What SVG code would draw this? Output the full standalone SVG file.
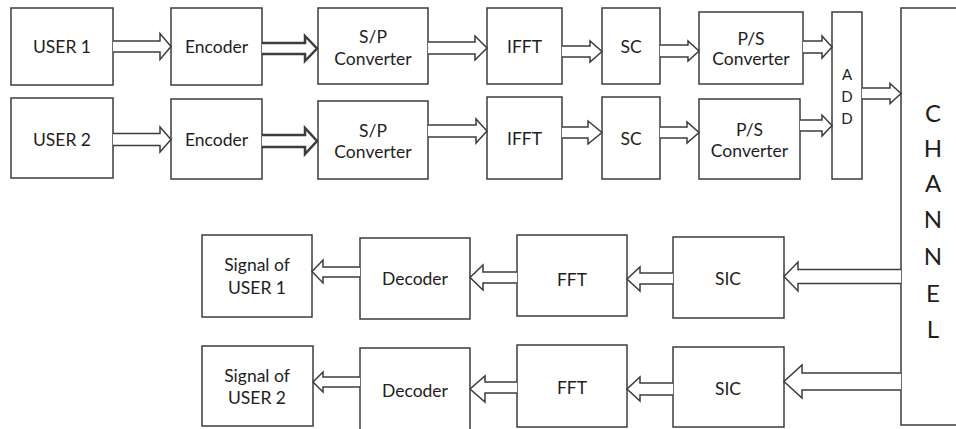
<svg xmlns="http://www.w3.org/2000/svg" width="956" height="429" viewBox="0 0 956 429">
<style>
.b{fill:#fff;stroke:#3c3c3c;stroke-width:1.5}
.a{fill:#fff;stroke:#3c3c3c;stroke-width:1.5;stroke-linejoin:miter}
.t{stroke-width:2.5}
text{font-family:Lato,"Open Sans","Liberation Sans",sans-serif;font-size:17.5px;fill:#1e1e1e;text-anchor:middle}
.big{font-size:24px}
.sm{font-size:15px}
</style>
<rect width="956" height="429" fill="#fff"/>
<g id="user1"><rect class="b" x="11" y="8" width="102" height="77"/><text x="62" y="53">USER 1</text></g>
<g id="user2"><rect class="b" x="11" y="98" width="102" height="80"/><text x="62" y="146">USER 2</text></g>
<g id="enc1"><rect class="b" x="171" y="8" width="91" height="77"/><text x="216.5" y="53">Encoder</text></g>
<g id="enc2"><rect class="b" x="171" y="99" width="91" height="80"/><text x="216.5" y="146">Encoder</text></g>
<g id="sp1"><rect class="b" x="318" y="8" width="110" height="76"/><text x="373" y="43">S/P</text><text x="373" y="65">Converter</text></g>
<g id="sp2"><rect class="b" x="318" y="101" width="110" height="78"/><text x="373" y="137">S/P</text><text x="373" y="158">Converter</text></g>
<g id="ifft1"><rect class="b" x="487" y="8" width="75" height="76"/><text x="524.5" y="53">IFFT</text></g>
<g id="ifft2"><rect class="b" x="487" y="97" width="75" height="82"/><text x="524.5" y="145">IFFT</text></g>
<g id="sc1"><rect class="b" x="602" y="8" width="58" height="76"/><text x="631" y="53">SC</text></g>
<g id="sc2"><rect class="b" x="602" y="97" width="58" height="82"/><text x="631" y="145">SC</text></g>
<g id="ps1"><rect class="b" x="699" y="12" width="104" height="72"/><text x="751" y="45">P/S</text><text x="751" y="65">Converter</text></g>
<g id="ps2"><rect class="b" x="699" y="99" width="101" height="80"/><text x="749.5" y="136">P/S</text><text x="749.5" y="157">Converter</text></g>
<g id="add"><rect class="b" x="832" y="12" width="30" height="167"/><text class="sm" x="847" y="80">A</text><text class="sm" x="847" y="102">D</text><text class="sm" x="847" y="124">D</text></g>
<g id="channel"><rect class="b" x="901" y="8" width="70" height="417"/>
<text class="big" x="933" y="122">C</text><text class="big" x="933" y="157">H</text><text class="big" x="933" y="192">A</text><text class="big" x="933" y="228">N</text><text class="big" x="933" y="265">N</text><text class="big" x="933" y="302">E</text><text class="big" x="933" y="338">L</text></g>
<g id="sig1"><rect class="b" x="202" y="235" width="110" height="82"/><text x="257" y="271">Signal of</text><text x="257" y="294">USER 1</text></g>
<g id="dec1"><rect class="b" x="360" y="238" width="110" height="81"/><text x="415" y="285">Decoder</text></g>
<g id="fft1"><rect class="b" x="517" y="235" width="110" height="81"/><text x="572" y="286">FFT</text></g>
<g id="sic1"><rect class="b" x="673" y="237" width="111" height="81"/><text x="728" y="285">SIC</text></g>
<g id="sig2"><rect class="b" x="202" y="346" width="111" height="80"/><text x="257" y="382">Signal of</text><text x="257" y="404">USER 2</text></g>
<g id="dec2"><rect class="b" x="360" y="348" width="110" height="86"/><text x="415" y="397">Decoder</text></g>
<g id="fft2"><rect class="b" x="517" y="345" width="110" height="82"/><text x="572" y="394">FFT</text></g>
<g id="sic2"><rect class="b" x="673" y="347" width="111" height="80"/><text x="728" y="395">SIC</text></g>
<g id="connectors">
<path class="a" d="M113 41H160V33.5L171 46.5L160 59.5V52H113"/>
<path class="a" d="M113 133.5H160V127L171 139.5L160 152V145.5H113"/>
<path class="a t" d="M262 43H305V36L317 48.5L305 61V54H262"/>
<path class="a t" d="M262 135H305V128L317 141L305 154V147H262"/>
<path class="a" d="M428 42H475V36L487 48L475 60V54H428"/>
<path class="a" d="M428 125H476V119L487 131L476 143V137H428"/>
<path class="a" d="M562 46H590V41L602 51.5L590 62V57H562"/>
<path class="a" d="M562 127H588V121L602 132.5L588 144V138H562"/>
<path class="a" d="M660 45H688V41L699 51L688 61V57H660"/>
<path class="a" d="M660 127H687V122L699 132.5L687 143V138H660"/>
<path class="a" d="M803 41H822V36L832 47L822 58V53H803"/>
<path class="a" d="M800 120H822V115L832 125.5L822 136V131H800"/>
<path class="a" d="M862 88H890V83.5L901 93.5L890 103.5V99H862"/>
<path class="a" d="M901 269.5H798V262L784 276.5L798 291V283.5H901"/>
<path class="a" d="M901 373H802V365L784 381.5L802 398V390H901"/>
<path class="a" d="M673 273H640V267L627 279L640 291V284H673"/>
<path class="a" d="M673 383H640V377L627 389L640 401V395H673"/>
<path class="a" d="M517 272H483V265L470 277.5L483 290V283H517"/>
<path class="a" d="M517 382H485V376L470 389L485 402V393H517"/>
<path class="a" d="M360 267H323V260L312 271.5L323 283V277H360"/>
<path class="a" d="M360 377H323V372L313 382L323 392V387H360"/>
</g>
</svg>
